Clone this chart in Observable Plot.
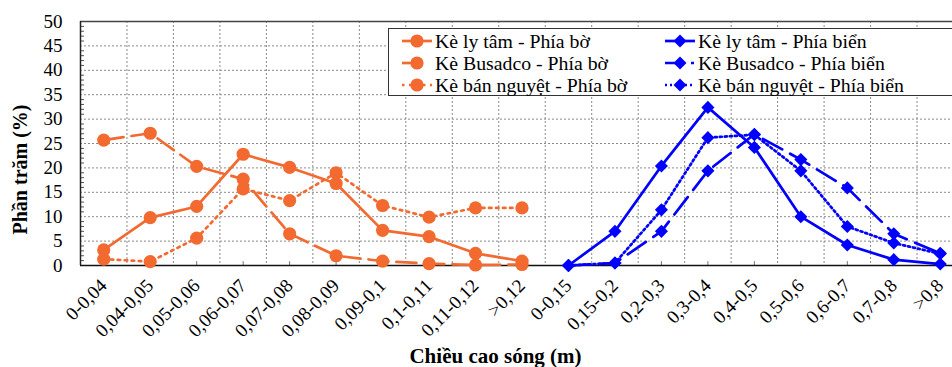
<!DOCTYPE html>
<html>
<head>
<meta charset="utf-8">
<script src="https://cdn.jsdelivr.net/npm/d3@7"></script>
<script src="https://cdn.jsdelivr.net/npm/@observablehq/plot@0.6"></script>
<style>
  html, body { margin: 0; padding: 0; background: #fff; overflow: hidden; }
  #wrap { position: relative; width: 952px; height: 367px; overflow: hidden; font-family: "Liberation Serif", "Times New Roman", serif; }
  #legend { position: absolute; left: 388px; top: 28px; width: 620px; height: 68px; border: 1.5px solid #333; background: #fff; box-sizing: border-box; }
  .item { position: absolute; height: 22px; line-height: 22px; font-size: 19.8px; color: #000; white-space: nowrap; display: flex; align-items: center; }
  .item svg { display: block; margin-right: 3px; }
</style>
</head>
<body>
<div id="wrap"><div id="chart"></div><div id="legend"></div></div>
<script>
// Categories (wave height classes)
const shoreCats = ["0-0,04", "0,04-0,05", "0,05-0,06", "0,06-0,07", "0,07-0,08", "0,08-0,09", "0,09-0,1", "0,1-0,11", "0,11-0,12", ">0,12"];
const seaCats = ["0-0,15", "0,15-0,2", "0,2-0,3", "0,3-0,4", "0,4-0,5", "0,5-0,6", "0,6-0,7", "0,7-0,8", ">0,8"];

// Series values (%)
const lyTamBo = [3.2, 9.8, 12.1, 22.8, 20.1, 16.8, 7.2, 5.9, 2.5, 0.9];
const busadcoBo = [25.7, 27.1, 20.3, 17.7, 6.5, 2.0, 0.9, 0.4, 0.1, 0.2];
const banNguyetBo = [1.3, 0.8, 5.6, 15.7, 13.3, 19.0, 12.3, 9.9, 11.8, 11.8];
const lyTamBien = [0, 7.0, 20.4, 32.4, 24.2, 10.0, 4.2, 1.2, 0.3];
const busadcoBien = [0, 0.5, 7.0, 19.4, 26.9, 21.7, 15.9, 6.5, 2.5];
const banNguyetBien = [0, 0.5, 11.4, 26.2, 26.8, 19.4, 8.0, 4.6, 2.4];

const seriesNames = [
  "Kè ly tâm - Phía bờ", "Kè Busadco - Phía bờ", "Kè bán nguyệt - Phía bờ",
  "Kè ly tâm - Phía biển", "Kè Busadco - Phía biển", "Kè bán nguyệt - Phía biển"
];
const yTicks = [0, 5, 10, 15, 20, 25, 30, 35, 40, 45, 50];
const xTitle = "Chiều cao sóng (m)";
const yTitle = "Phần trăm (%)";

const categories = shoreCats.concat(seaCats);
const ORANGE = "#F26A30";
const BLUE = "#0000FF";

function build(values, offset) {
  return values.map((v, i) => ({idx: offset + i, cat: categories[offset + i], value: v}));
}
const series = [
  {name: seriesNames[0], data: build(lyTamBo, 0), color: ORANGE, dash: null, legendDash: null, kind: "circle"},
  {name: seriesNames[1], data: build(busadcoBo, 0), color: ORANGE, dash: "20,8", legendDash: "10,30", kind: "circle"},
  {name: seriesNames[2], data: build(banNguyetBo, 0), color: ORANGE, dash: "2.5,4.5", legendDash: "2.5,4.5", kind: "circle"},
  {name: seriesNames[3], data: build(lyTamBien, shoreCats.length), color: BLUE, dash: null, legendDash: null, kind: "diamond"},
  {name: seriesNames[4], data: build(busadcoBien, shoreCats.length), color: BLUE, dash: "22,9", legendDash: "14,12,3,10", kind: "diamond"},
  {name: seriesNames[5], data: build(banNguyetBien, shoreCats.length), color: BLUE, dash: "2,3", legendDash: "2,3", kind: "diamond"}
];

const idx = categories.map((c, i) => i);
const boundaries = d3.range(0.5, categories.length - 1, 1);
const minorY = d3.range(1, 50).filter(v => v % 5 !== 0);

const marks = [
  Plot.ruleY(yTicks.filter(v => v > 0 && v < 50), {stroke: "#8a8a8a", strokeWidth: 1, strokeDasharray: "2,2"}),
  Plot.ruleX(boundaries, {stroke: "#8a8a8a", strokeWidth: 1, strokeDasharray: "2,2"}),
  Plot.ruleY(minorY, {x1: -0.5, x2: -0.5 + 4 / 46.47, stroke: "#555", strokeWidth: 1}),
  Plot.ruleX(idx, {y1: 0, y2: 0.8, stroke: "#777", strokeWidth: 1}),
  Plot.ruleY([50], {stroke: "#444", strokeWidth: 1.5}),
  Plot.ruleX([-0.5], {stroke: "#222", strokeWidth: 1.5}),
  Plot.ruleY([0], {stroke: "#111", strokeWidth: 1.5})
];

for (const s of series) {
  marks.push(Plot.line(s.data, {x: "idx", y: "value", stroke: s.color, strokeWidth: 2.7, strokeDasharray: s.dash || undefined}));
  if (s.kind === "circle") {
    marks.push(Plot.dot(s.data, {x: "idx", y: "value", r: 6.6, fill: s.color, stroke: "none"}));
  } else {
    marks.push(Plot.dot(s.data, {x: "idx", y: "value", r: 5.9, symbol: d3.symbolDiamond2, fill: s.color, stroke: "none"}));
  }
}

marks.push(Plot.text([xTitle], {text: d => d, frameAnchor: "bottom", textAnchor: "middle", lineAnchor: "middle", dx: -21, dy: 91, fontWeight: "bold", fontSize: 21}));
marks.push(Plot.text([yTitle], {text: d => d, frameAnchor: "left", textAnchor: "middle", lineAnchor: "middle", dx: -60, dy: 26, rotate: -90, fontWeight: "bold", fontSize: 20}));

const chart = Plot.plot({
  width: 952,
  height: 367,
  marginLeft: 80,
  marginRight: 0,
  marginTop: 21,
  marginBottom: 102,
  style: {fontFamily: "'Liberation Serif', serif", fontSize: "19px", color: "#000", background: "#fff", overflow: "hidden"},
  x: {type: "linear", domain: [-0.5, categories.length - 0.5], range: [80, 963], ticks: idx, tickFormat: i => categories[i], tickRotate: -45, tickSize: 0, tickPadding: 17, label: null},
  y: {domain: [0, 50], ticks: yTicks, tickSize: 0, tickPadding: 18, label: null},
  marks
});
document.getElementById("chart").appendChild(chart);

// Legend
const legend = document.getElementById("legend");
const legendPos = [
  {left: 13, top: 1}, {left: 13, top: 23}, {left: 13, top: 45},
  {left: 276, top: 1}, {left: 276, top: 23}, {left: 276, top: 45}
];
series.forEach((s, i) => {
  const div = document.createElement("div");
  div.className = "item";
  div.style.left = legendPos[i].left + "px";
  div.style.top = legendPos[i].top + "px";
  const svg = d3.create("svg").attr("width", 30).attr("height", 22);
  svg.append("line").attr("x1", 0).attr("x2", 30).attr("y1", 11).attr("y2", 11)
    .attr("stroke", s.color).attr("stroke-width", 2.7)
    .attr("stroke-dasharray", s.legendDash);
  if (s.kind === "circle") {
    svg.append("circle").attr("cx", 15).attr("cy", 11).attr("r", 6.6).attr("fill", s.color);
  } else {
    svg.append("path").attr("d", "M15,4.5L21.5,11L15,17.5L8.5,11Z").attr("fill", s.color);
  }
  div.appendChild(svg.node());
  const span = document.createElement("span");
  span.textContent = s.name;
  div.appendChild(span);
  legend.appendChild(div);
});
</script>
</body>
</html>
